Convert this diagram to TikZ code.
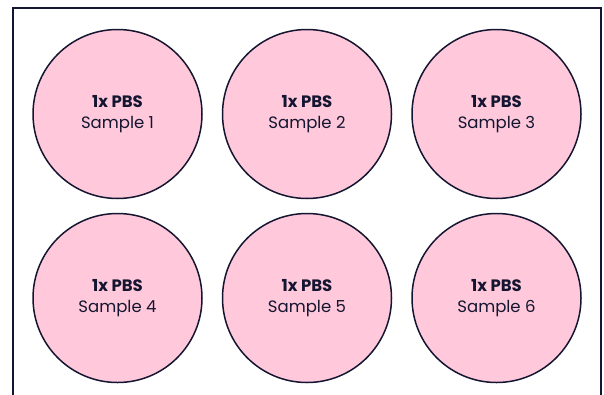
\documentclass[tikz,border=0pt]{standalone}
\usepackage{fontspec}
\setmainfont{Poppins}
\usepackage{tikz}
\usetikzlibrary{positioning}

\definecolor{wellpink}{HTML}{FFC9DB}
\definecolor{inkblue}{HTML}{141530}

\begin{document}
\begin{tikzpicture}[
    x=1pt, y=-1pt,
    node distance=15pt and 20.5pt,
    wellbox/.style={circle, draw=inkblue, line width=1.5pt, fill=wellpink, minimum size=169pt, inner sep=0pt, outer sep=0pt, align=center, font=\fontsize{16.5}{21}\selectfont, text=inkblue},
    plate/.style={draw=inkblue, line width=2pt}
]
\useasboundingbox (0,0) rectangle (604,394);
\clip (0,0) rectangle (604,394);

% plate outline
\coordinate (platetl) at (12.5,7.5);
\coordinate (platebr) at (601,410);
\draw[plate] (platetl) rectangle (platebr);

\node[wellbox] (well1) at (117.5,114) {\textbf{1x PBS}\\Sample 1};
\node[wellbox, right=of well1] (well2) {\textbf{1x PBS}\\Sample 2};
\node[wellbox, right=of well2] (well3) {\textbf{1x PBS}\\Sample 3};
\node[wellbox, below=of well1] (well4) {\textbf{1x PBS}\\Sample 4};
\node[wellbox, right=of well4] (well5) {\textbf{1x PBS}\\Sample 5};
\node[wellbox, right=of well5] (well6) {\textbf{1x PBS}\\Sample 6};

\end{tikzpicture}
\end{document}
